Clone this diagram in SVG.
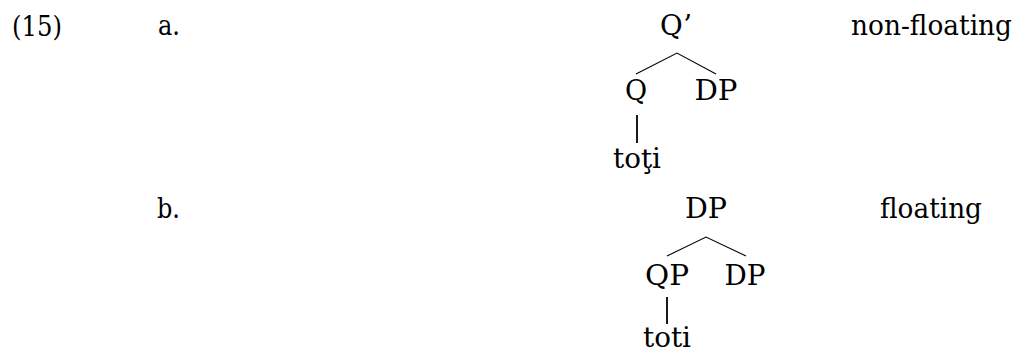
<svg xmlns="http://www.w3.org/2000/svg" width="1015" height="353" viewBox="0 0 1015 353">
<style>
text{font-family:"DejaVu Serif","Liberation Serif",serif;font-size:27px;fill:#000}
.m{text-anchor:middle}
.br{stroke:#000;stroke-width:1.1;fill:none}
.vt{stroke:#000;stroke-width:1.8;fill:none}
</style>
<rect width="1015" height="353" fill="#fff"/>
<g id="labels">
<text x="12" y="36" font-size="29" textLength="50" lengthAdjust="spacingAndGlyphs">(15)</text>
<text x="158" y="35" textLength="22" lengthAdjust="spacingAndGlyphs">a.</text>
<text x="851" y="35" textLength="161" lengthAdjust="spacingAndGlyphs">non-floating</text>
<text x="157" y="218" textLength="23" lengthAdjust="spacingAndGlyphs">b.</text>
<text x="880" y="218" textLength="102" lengthAdjust="spacingAndGlyphs">floating</text>
</g>
<g id="connectors">
<path class="br" d="M636,74 L677,53 L716,74"/>
<path class="vt" d="M637,115 V143"/>
<path class="br" d="M667,256 L706,237 L746,256"/>
<path class="vt" d="M667,297 V324"/>
</g>
<g id="nodeQbar"><text x="660" y="35" textLength="32" lengthAdjust="spacingAndGlyphs">Q’</text></g>
<g id="nodeQ"><text class="m" x="636" y="100">Q</text></g>
<g id="nodeDPa"><text class="m" x="716" y="100" textLength="43" lengthAdjust="spacingAndGlyphs">DP</text></g>
<g id="nodeToti1"><text class="m" x="637" y="168" textLength="48" lengthAdjust="spacingAndGlyphs">toţi</text></g>
<g id="nodeDPtop"><text class="m" x="706" y="218" textLength="42" lengthAdjust="spacingAndGlyphs">DP</text></g>
<g id="nodeQP"><text class="m" x="667" y="285" textLength="44" lengthAdjust="spacingAndGlyphs">QP</text></g>
<g id="nodeDPb"><text class="m" x="745" y="285" textLength="41" lengthAdjust="spacingAndGlyphs">DP</text></g>
<g id="nodeToti2"><text class="m" x="667" y="347" textLength="48" lengthAdjust="spacingAndGlyphs">toti</text></g>
</svg>
